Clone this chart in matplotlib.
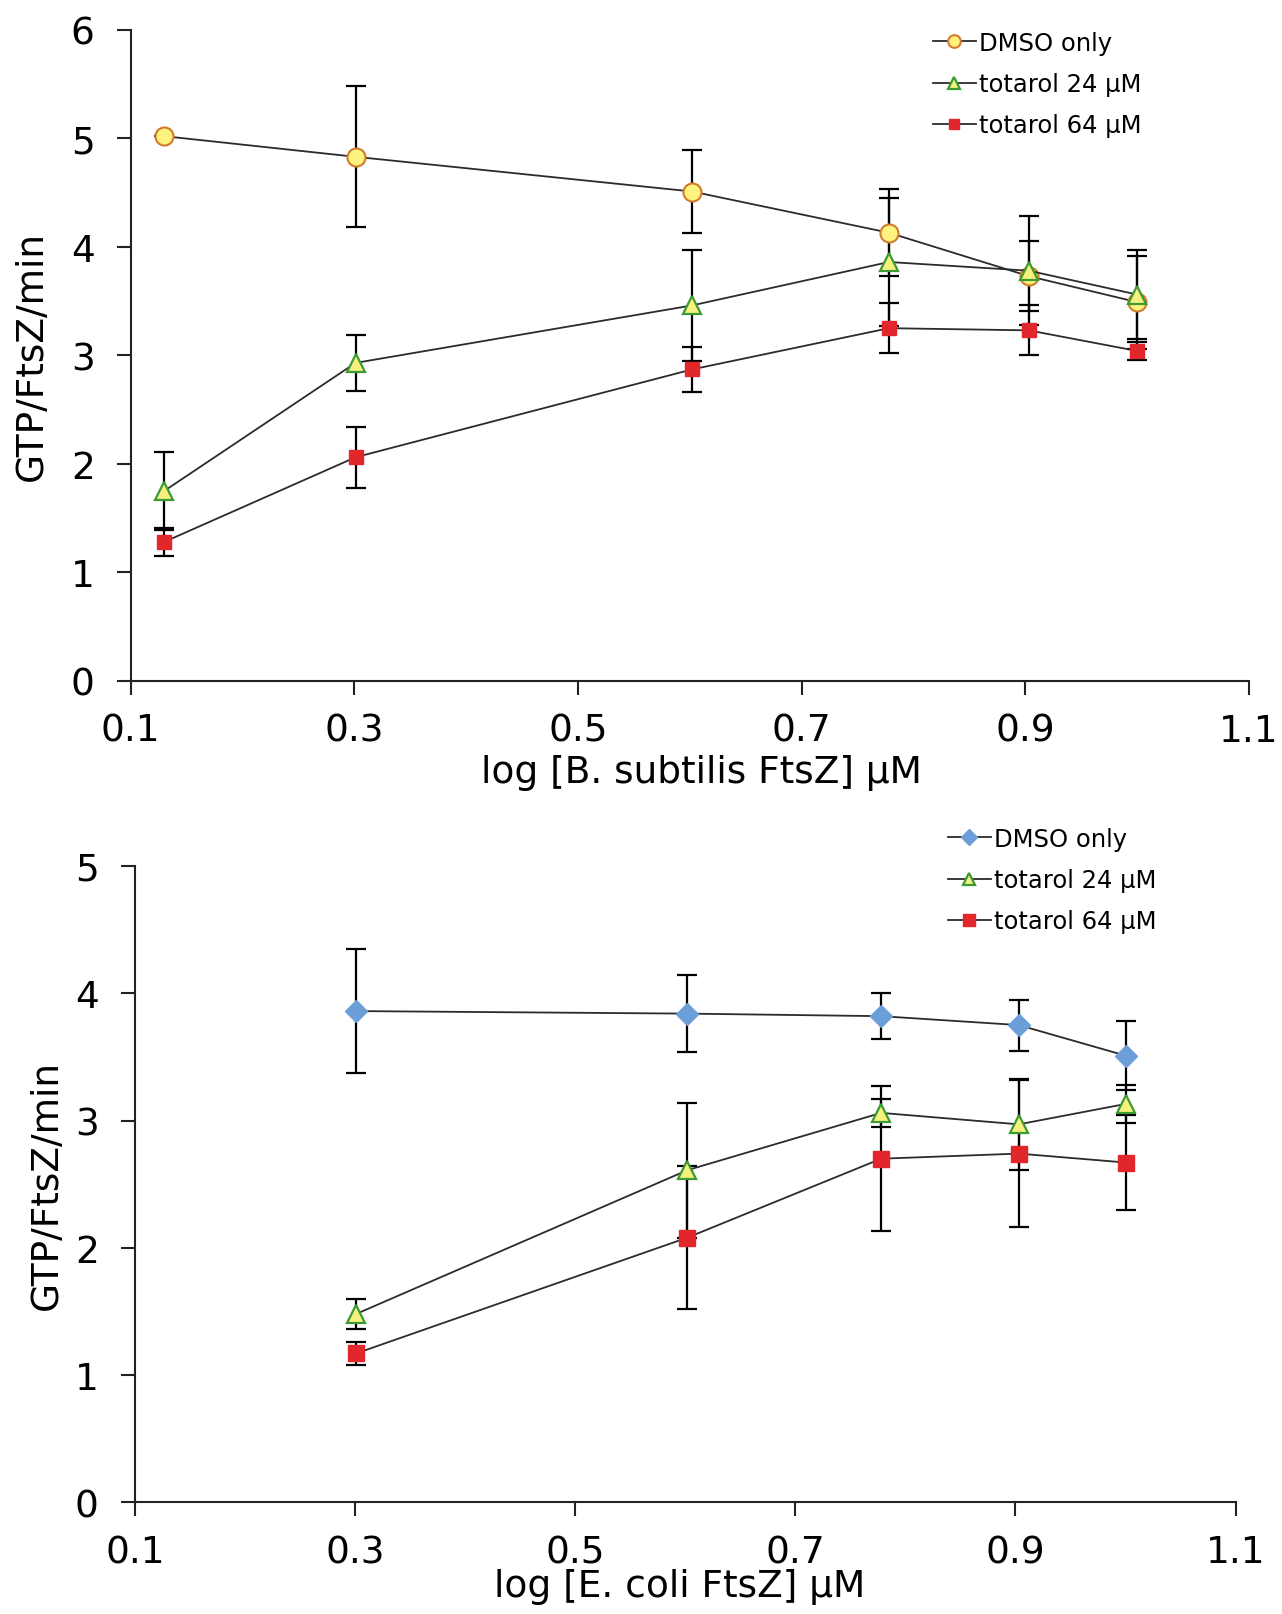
import matplotlib
matplotlib.use("Agg")
import matplotlib.pyplot as plt

plt.rcParams['font.family'] = ['DejaVu Sans']

# ---------------- data: B. subtilis FtsZ (top) ----------------
bs_x = [0.130, 0.301, 0.602, 0.778, 0.903, 1.000]
bs_dmso = [5.02, 4.83, 4.51, 4.13, 3.73, 3.49]
bs_dmso_err = [0.0, 0.65, 0.38, 0.40, 0.32, 0.43]
bs_t24 = [1.75, 2.93, 3.46, 3.86, 3.78, 3.56]
bs_t24_err = [0.36, 0.26, 0.51, 0.59, 0.50, 0.41]
bs_t64 = [1.28, 2.06, 2.87, 3.25, 3.23, 3.04]
bs_t64_err = [0.13, 0.28, 0.21, 0.23, 0.23, 0.08]

# ---------------- data: E. coli FtsZ (bottom) ----------------
ec_x = [0.301, 0.602, 0.778, 0.903, 1.000]
ec_dmso = [3.86, 3.84, 3.82, 3.75, 3.51]
ec_dmso_err = [0.49, 0.30, 0.18, 0.20, 0.27]
ec_t24 = [1.48, 2.61, 3.06, 2.97, 3.13]
ec_t24_err = [0.12, 0.53, 0.11, 0.36, 0.15]
ec_t64 = [1.17, 2.08, 2.70, 2.74, 2.67]
ec_t64_err = [0.09, 0.56, 0.57, 0.58, 0.37]

labels = ["DMSO only", "totarol 24 \u03bcM", "totarol 64 \u03bcM"]
xticks = [0.1, 0.3, 0.5, 0.7, 0.9, 1.1]
xticklabels = ["0.1", "0.3", "0.5", "0.7", "0.9", "1.1"]

W, H = 1282, 1615
fig = plt.figure(figsize=(W / 100, H / 100), dpi=100)

ax1 = fig.add_axes([130.8 / W, 1 - 681.7 / H, (1249 - 130.8) / W, (681.7 - 30.9) / H])
ax2 = fig.add_axes([134.9 / W, 1 - 1503.3 / H, (1235.6 - 134.9) / W, (1503.3 - 867.0) / H])

line_kw = dict(color='#2b2b2b', lw=1.3)
err_kw = dict(fmt='none', ecolor='black', elinewidth=1.6, capsize=7, capthick=1.6, zorder=2)


def draw(ax, x, series, errs, styles):
    for y, e, st, lab in zip(series, errs, styles, labels):
        ax.errorbar(x, y, yerr=e, **err_kw)
        ax.plot(x, y, label=lab, zorder=3, **line_kw, **st)


circle = dict(marker='o', ms=13, mfc='#FFF380', mec='#D27A2A', mew=1.5)
tri_big = dict(marker='^', ms=13, mfc='#F6F07C', mec='#3C9A35', mew=1.6)
sq = dict(marker='s', ms=10.5, mfc='#E1262C', mec='#E1262C', mew=1)
diamond = dict(marker='D', ms=11, mfc='#6C9FD8', mec='#6C9FD8', mew=1)
tri_b = dict(marker='^', ms=13, mfc='#F6F07C', mec='#3C9A35', mew=1.6)
sq_b = dict(marker='s', ms=12, mfc='#E1262C', mec='#E1262C', mew=1)

draw(ax1, bs_x, [bs_dmso, bs_t24, bs_t64], [bs_dmso_err, bs_t24_err, bs_t64_err],
     [circle, tri_big, sq])
draw(ax2, ec_x, [ec_dmso, ec_t24, ec_t64], [ec_dmso_err, ec_t24_err, ec_t64_err],
     [diamond, tri_b, sq_b])

for ax, ymax in ((ax1, 6), (ax2, 5)):
    ax.set_xlim(0.1, 1.1)
    ax.set_ylim(0, ymax)
    ax.set_xticks(xticks)
    ax.set_xticklabels(xticklabels)
    ax.set_yticks(range(0, ymax + 1))
    for s in ('top', 'right'):
        ax.spines[s].set_visible(False)
    for s in ('left', 'bottom'):
        ax.spines[s].set_linewidth(1.5)
        ax.spines[s].set_color('#222222')
        ax.spines[s].set_clip_on(False)
    ax.tick_params(axis='both', direction='out', length=10, width=1.5, color='#222222',
                   labelsize=27, labelcolor='black')
    ax.tick_params(axis='x', pad=13)
    ax.tick_params(axis='y', pad=16)
    ax.set_ylabel("GTP/FtsZ/min", fontsize=27)
    for item in ax.get_children():
        try:
            item.set_clip_on(False)
        except Exception:
            pass

ax1.set_xlabel("log [B. subtilis FtsZ] \u03bcM", fontsize=27)
ax2.set_xlabel("log [E. coli FtsZ] \u03bcM", fontsize=27)
ax1.xaxis.set_label_coords(0.51, -0.112)
ax2.xaxis.set_label_coords(0.495, -0.104)
ax1.yaxis.set_label_coords(-0.072, 0.5)
ax2.yaxis.set_label_coords(-0.064, 0.5)

leg_kw = dict(loc='upper left', frameon=False, fontsize=17.5, handlelength=1.75,
              handletextpad=0.15, labelspacing=0.7, borderpad=0, borderaxespad=0,
              markerscale=0.7, bbox_transform=fig.transFigure)
ax1.legend(bbox_to_anchor=(933 / W, 1 - 32 / H), **leg_kw)
ax2.legend(bbox_to_anchor=(948 / W, 1 - 828 / H), **leg_kw)

fig.savefig("out.png", dpi=100)
